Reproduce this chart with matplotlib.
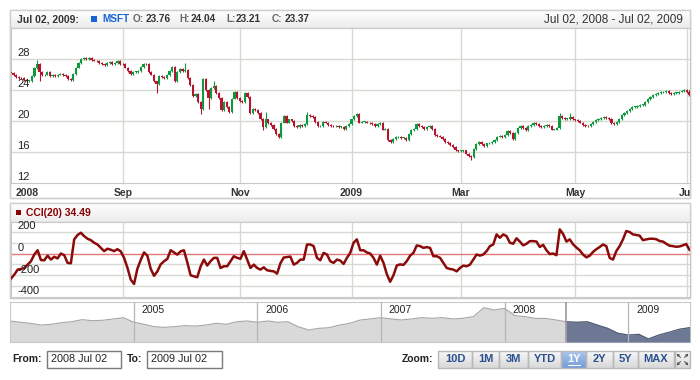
import numpy as np
import pandas as pd
import matplotlib
matplotlib.use("Agg")
import matplotlib.pyplot as plt
import matplotlib.dates as mdates
from matplotlib.patches import Rectangle
from matplotlib.transforms import Bbox, TransformedBbox

plt.rcParams['font.family'] = ['Liberation Sans', 'DejaVu Sans']

# ---------------- data ----------------
# daily closes, Jul 02 2008 .. Jul 02 2009
closes = [
    26.2, 25.9, 25.7, 25.6, 25.5, 25.3, 25.2, 25.2, 25.8, 26.8,
    27.4, 26.3, 25.9, 26.0, 26.3, 25.8, 25.9, 25.8, 26.0, 26.1,
    25.9, 25.8, 25.4, 25.3, 26.1, 26.9, 27.5, 28.0, 28.1, 28.0,
    28.1, 27.9, 27.8, 27.7, 27.5, 27.3, 27.2, 27.5, 27.6, 27.4,
    27.5, 27.7, 27.4, 27.3, 26.9, 26.5, 26.1, 26.3, 26.3, 26.5,
    27.0, 27.4, 27.3, 26.3, 26.0, 25.1, 24.8, 25.8, 25.7, 25.6,
    25.9, 26.4, 27.0, 25.2, 26.3, 26.7, 26.5, 26.6, 25.5, 24.6,
    23.2, 23.5, 22.5, 21.6, 25.4, 24.0, 23.0, 24.3, 24.5, 23.6,
    23.0, 21.4, 22.4, 21.8, 21.2, 22.9, 23.7, 23.0, 22.6, 22.4,
    23.6, 23.1, 21.0, 21.5, 21.4, 21.0, 20.3, 19.2, 20.2, 19.7,
    19.5, 19.0, 18.3, 17.9, 19.8, 20.6, 19.8, 20.2, 20.0, 19.3,
    19.2, 19.5, 19.4, 19.6, 20.8, 20.6, 20.5, 19.9, 19.3, 19.4,
    19.9, 19.8, 19.5, 19.4, 19.3, 19.3, 19.2, 19.2, 19.0, 19.3,
    19.6, 20.2, 20.7, 20.9, 19.8, 19.9, 19.9, 19.8, 19.7, 19.6,
    19.3, 19.6, 19.7, 18.9, 19.0, 17.6, 17.3, 17.7, 17.9, 18.0,
    17.8, 17.8, 17.5, 18.3, 18.8, 19.0, 19.6, 19.4, 19.2, 19.0,
    19.2, 19.3, 19.0, 18.2, 18.1, 18.0, 17.7, 17.3, 17.2, 16.9,
    16.7, 16.2, 16.1, 16.1, 16.2, 15.8, 15.5, 15.3, 16.4, 17.0,
    17.3, 17.0, 16.8, 17.1, 17.2, 17.3, 17.5, 18.0, 18.1, 17.9,
    18.2, 18.7, 18.4, 17.7, 18.4, 19.1, 19.3, 19.1, 18.8, 19.3,
    19.5, 19.7, 19.6, 19.4, 19.2, 19.4, 19.5, 19.3, 18.9, 18.9,
    19.1, 20.6, 20.4, 20.3, 20.3, 20.5, 20.2, 20.1, 20.0, 19.8,
    19.5, 19.4, 19.3, 19.6, 19.9, 20.1, 20.3, 20.4, 20.5, 20.4,
    20.3, 19.7, 19.6, 19.9, 20.3, 20.8, 21.0, 21.3, 21.6, 21.8,
    21.8, 21.9, 22.1, 22.1, 22.5, 22.8, 23.1, 23.3, 23.5, 23.6,
    23.7, 23.7, 23.9, 23.6, 23.5, 23.6, 23.6, 23.8, 23.9, 24.0,
    23.7, 23.37,
]
# visible long shadows: day number -> price
wick_high = {10: 27.9, 67: 27.5, 78: 25.1, 98: 21.2, 114: 21.2, 211: 21.0, 215: 21.0}
wick_low = {11: 25.1, 56: 23.6, 73: 20.9, 76: 21.5, 97: 18.9, 177: 15.0}
last_ohlc = (23.76, 24.04, 23.21, 23.37)

cci = [
    -230, -194, -148, -142, -133, -102, -71, -9, 30, -60,
    -62, -20, -56, -30, -45, 0, -15, -86, -90, 130,
    170, 191, 160, 136, 123, 99, 83, 52, 22, 44,
    35, 22, 40, 20, -40, -130, -240, -280, -140, -60,
    10, -20, -140, -205, -165, -100, -71, -50, 30, 10,
    -10, 20, 30, -80, -200, -210, -218, -120, -56, -111,
    -71, -40, -40, -133, -117, -117, -71, -25, -40, -49,
    22, -56, -133, -102, -133, -148, -127, -154, -160, -164,
    -185, -90, -37, -32, -28, -102, -86, -56, -56, 83,
    83, 68, -40, -62, 6, -9, -71, -86, -56, -65,
    -96, -40, 6,
    99, 130, 30, 30, 10, 0, -40, -102, -20, -86,
    -190, -260, -200, -110, -100, -105, -70, -20, 6, 74,
    68, 52, 59, 52, -25, -25, -40, -86, -133, -142,
    -148, -164, -133, -111, -117, -102, -56, -9, -19, -9,
    22, 68, 83, 176, 145, 176, 160, 99, 90, 140,
    110, 75, 90, 114, 114, 110, 60, 80, 30, -5,
    0, -15, 222, 180, 110, 130, 85, 55, 30, -10,
    -35, -20, 15, 40, 60, 83, 68, -40, -56, 22,
    68, 130, 207, 198, 176, 170, 165, 123, 130, 136,
    136, 132, 115, 110, 90, 72, 68, 62, 65, 75,
    88, 34.49,
]
cci_last = 34.49

month_labels = ['2008', 'Sep', 'Nov', '2009', 'Mar', 'May', 'Jul']
month_starts = ['2008-07-02', '2008-09-01', '2008-11-01', '2009-01-01',
                '2009-03-01', '2009-05-01', '2009-07-01']
price_ticks = [12, 16, 20, 24, 28]
cci_ticks = [-400, -200, 0, 200]

# monthly closes for the scroller, Jan 2004 .. Jul 2009
overview = [
    26.7, 25.8, 25.1, 23.9, 24.4, 25.5, 26.2, 27.6, 26.9, 27.2,
    28.1, 29.0, 25.8, 24.4, 22.8, 22.3, 22.8, 23.5, 23.2, 23.9,
    25.1, 24.4, 26.2, 26.7, 25.8, 26.7, 25.8, 26.2, 22.8, 20.5,
    21.6, 22.1, 23.9, 25.1, 27.4, 28.1, 29.0, 28.1, 27.4, 28.1,
    29.0, 28.6, 29.0, 28.1, 28.6, 29.7, 35.9, 34.3, 35.4, 30.4,
    29.7, 28.5, 28.5, 27.4, 26.2, 25.8, 26.2, 23.9, 21.6, 18.2,
    17.0, 17.5, 14.3, 17.0, 18.9, 21.0, 22.1,
]
overview_years = ['2005', '2006', '2007', '2008', '2009']
zoom_buttons = ['10D', '1M', '3M', 'YTD', '1Y', '2Y', '5Y', 'MAX']
selected_button = '1Y'

GREEN = '#0e9a3c'
RED = '#b5142f'
GRID = '#d6dbd2'
TXT = '#222222'

W, H = 700, 380
fig = plt.figure(figsize=(7, 3.8), dpi=100)


def box(x0, y0, x1, y1):
    return [x0 / W, 1 - y1 / H, (x1 - x0) / W, (y1 - y0) / H]


bg = fig.add_axes([0, 0, 1, 1])
bg.set_axis_off()


def grad(x0, y0, x1, y1, top, bottom, z=1):
    t = np.linspace(0, 1, 32)[:, None, None]
    arr = np.array(top)[None, None, :] * (1 - t) + np.array(bottom)[None, None, :] * t
    bg.imshow(arr, extent=[x0, x1, y1, y0], aspect='auto', origin='upper',
              interpolation='bilinear', zorder=z)


def frame(x0, y0, x1, y1, ec='#cfcfcf', fc='none', lw=1, z=2):
    bg.add_patch(Rectangle((x0, y0), x1 - x0, y1 - y0, fc=fc, ec=ec, lw=lw, zorder=z))


# panel backgrounds / headers
frame(10, 10, 690, 198, fc='white', z=0.5)
grad(10, 10, 690, 28, (1, 1, 1), (0.925, 0.925, 0.925))
frame(10, 10, 690, 198)
bg.plot([10, 690], [28, 28], color='#d4d4d4', lw=1, zorder=3)

frame(10, 203, 690, 298, fc='white', z=0.5)
grad(10, 203, 690, 222, (1, 1, 1), (0.925, 0.925, 0.925))
frame(10, 203, 690, 298)
bg.plot([10, 690], [222, 222], color='#d4d4d4', lw=1, zorder=3)

# header texts
hy = 19.5
hfs = 7.2
bg.text(17, hy, 'Jul 02, 2009:', fontsize=7.5, fontweight='bold', color='#333', va='center', zorder=4)
bg.add_patch(Rectangle((91, 16), 6, 6, fc='#1565d8', ec='none', zorder=4))
bg.text(102, hy, 'MSFT', fontsize=hfs, fontweight='bold', color='#1565d8', va='center', zorder=4)
hx = [(133, 'O:', '#666'), (146, '%.2f' % last_ohlc[0], '#333'),
      (179, 'H:', '#666'), (191, '%.2f' % last_ohlc[1], '#333'),
      (226, 'L:', '#666'), (236, '%.2f' % last_ohlc[2], '#333'),
      (272, 'C:', '#666'), (285, '%.2f' % last_ohlc[3], '#333')]
for x, s, col in hx:
    bg.text(x, hy, s, fontsize=hfs, fontweight='bold', color=col, va='center', zorder=4)
bg.text(683, hy, 'Jul 02, 2008 - Jul 02, 2009', fontsize=8.5, color='#333',
        ha='right', va='center', zorder=4)

bg.add_patch(Rectangle((16, 210), 5, 5, fc='#8b0000', ec='none', zorder=4))
bg.text(26, 212.5, 'CCI(20) %.2f' % cci_last, fontsize=7.5, fontweight='bold',
        color='#8b0000', va='center', zorder=4)

# ---------------- price panel ----------------
n = len(closes)
days = pd.bdate_range(end='2009-07-02', periods=n)
idx = np.arange(n)
c = np.array(closes)
o = np.r_[c[0] + 0.1, c[:-1]]
o[-1] = last_ohlc[0]
hi = np.maximum(o, c) + 0.12
lo = np.minimum(o, c) - 0.12
for k, v in wick_high.items():
    hi[k] = v
for k, v in wick_low.items():
    lo[k] = v
hi[-1], lo[-1] = last_ohlc[1], last_ohlc[2]
cols = np.where(c >= o, GREEN, RED)

tick_idx = days.searchsorted(pd.to_datetime(month_starts))

ax = fig.add_axes(box(11, 28, 690, 183))
ax.set_xlim(0, n - 0.8)
ax.set_ylim(12, 32)
for t in price_ticks[1:]:
    ax.axhline(t, color=GRID, lw=1, zorder=0)
for t in tick_idx[1:]:
    ax.axvline(t, color=GRID, lw=1, zorder=0)
ax.vlines(idx, lo, hi, colors=cols, lw=0.8, zorder=2)
ax.bar(idx, np.maximum(np.abs(c - o), 0.1), bottom=np.minimum(o, c), width=0.85,
       color=cols, linewidth=0, zorder=3)
ax.set_xticks([])
ax.set_yticks([])
for s in ax.spines.values():
    s.set_color('#c8c8c8')
for t in price_ticks:
    ax.annotate(str(t), xy=(0, t), xycoords=('axes fraction', 'data'), xytext=(4.5, 1),
                textcoords='offset points', fontsize=8, color=TXT, va='bottom', zorder=5)

clip = TransformedBbox(Bbox([[10, 183], [690, 198]]), bg.transData)
for t, lab in zip(tick_idx, month_labels):
    if t == 0:
        a = ax.annotate(lab, xy=(t, 0), xycoords=('data', 'axes fraction'), xytext=(3, -7),
                        textcoords='offset points', fontsize=7.5, fontweight='bold',
                        color='#333', ha='left', va='center')
    else:
        a = ax.annotate(lab, xy=(t, 0), xycoords=('data', 'axes fraction'), xytext=(0, -7),
                        textcoords='offset points', fontsize=7.5, fontweight='bold',
                        color='#333', ha='center', va='center')
    a.set_clip_box(clip)
    a.set_clip_on(True)

# ---------------- CCI panel ----------------
ax2 = fig.add_axes(box(11, 222, 690, 297))
ax2.set_xlim(0, n - 0.8)
ax2.set_ylim(-400, 290)
for t in [-300, -200, -100, 100, 200]:
    ax2.axhline(t, color=GRID, lw=1, zorder=0)
for t in tick_idx[1:]:
    ax2.axvline(t, color=GRID, lw=1, zorder=0)
ax2.axhline(0, color='#e07a7a', lw=1, zorder=1)
ax2.plot(np.linspace(0, n - 1, len(cci)), cci, color='#8b0a0a', lw=1.8, zorder=3,
         solid_joinstyle='round')
ax2.set_xticks([])
ax2.set_yticks([])
for s in ax2.spines.values():
    s.set_color('#c8c8c8')
for t in cci_ticks:
    ax2.annotate(str(t), xy=(0, t), xycoords=('axes fraction', 'data'), xytext=(4.5, 0.5),
                 textcoords='offset points', fontsize=8, color=TXT, va='bottom', zorder=5)

# ---------------- scroller ----------------
ov_dates = pd.date_range('2004-01-01', periods=len(overview), freq='MS')
ov = np.array(overview)
sel_start = pd.Timestamp('2008-07-01')
ax3 = fig.add_axes(box(10, 302, 690, 342))
ax3.set_xlim(mdates.date2num(pd.Timestamp('2004-01-01')), mdates.date2num(pd.Timestamp('2009-07-02')))
ax3.set_ylim(12.2, 39.8)
ax3.fill_between(ov_dates, ov, 12.2, color='#d9d9d9', lw=0, zorder=1)
ax3.plot(ov_dates, ov, color='#a6a6a6', lw=0.8, zorder=2)
m = ov_dates >= sel_start
ax3.fill_between(ov_dates[m], ov[m], 12.2, color='#6d7894', lw=0, zorder=3)
ax3.plot(ov_dates[m], ov[m], color='#4d5a78', lw=0.8, zorder=4)
for y in overview_years:
    d = pd.Timestamp(y + '-01-01')
    ax3.axvline(d, color='#b5b5b5', lw=0.9, zorder=5)
    ax3.annotate(y, xy=(mdates.date2num(d), 1), xycoords=('data', 'axes fraction'),
                 xytext=(5.5, -5.5), textcoords='offset points', fontsize=7.5,
                 color=TXT, va='center', zorder=6)
ax3.axvline(sel_start, color='#9a9a9a', lw=1.2, zorder=6)
ax3.set_xticks([])
ax3.set_yticks([])
for s in ax3.spines.values():
    s.set_color('#c8c8c8')

# ---------------- range / zoom controls ----------------
ry = 359.5
bg.text(12, ry, 'From:', fontsize=7.5, fontweight='bold', color=TXT, va='center')
frame(47, 351, 121, 368, ec='#7a7a7a', fc='white')
bg.text(51, ry, '2008 Jul 02', fontsize=7.8, color=TXT, va='center', zorder=4)
bg.text(127, ry, 'To:', fontsize=7.5, fontweight='bold', color=TXT, va='center')
frame(147, 351, 222, 368, ec='#7a7a7a', fc='white')
bg.text(151, ry, '2009 Jul 02', fontsize=7.8, color=TXT, va='center', zorder=4)

bg.text(433, ry, 'Zoom:', fontsize=7.5, fontweight='bold', color=TXT, ha='right', va='center')
edges = [438, 472, 499, 528, 561, 586, 613, 638, 674]
for i, lab in enumerate(zoom_buttons):
    x0, x1 = edges[i], edges[i + 1]
    if lab == selected_button:
        grad(x0, 351, x1, 368, (0.68, 0.78, 0.93), (0.45, 0.61, 0.85), z=2)
        tc = 'white'
    else:
        grad(x0, 351, x1, 368, (0.97, 0.97, 0.97), (0.85, 0.85, 0.85), z=2)
        tc = '#2b4f8f'
    frame(x0, 351, x1, 368, ec='#b8b8b8', z=3)
    bg.text((x0 + x1) / 2, ry, lab, fontsize=8, fontweight='bold', color=tc,
            ha='center', va='center', zorder=4)
    if lab == selected_button:
        bg.plot([(x0 + x1) / 2 - 6, (x0 + x1) / 2 + 6], [364.5, 364.5], color='white', lw=0.8, zorder=4)

# full screen icon
grad(675, 351, 690, 368, (0.97, 0.97, 0.97), (0.85, 0.85, 0.85), z=2)
frame(675, 351, 690, 368, ec='#b8b8b8', z=3)
cx, cy = 682.5, 359.5
for dx, dy in [(-1, -1), (1, -1), (-1, 1), (1, 1)]:
    bg.annotate('', xy=(cx + dx * 6, cy + dy * 6), xytext=(cx + dx * 2, cy + dy * 2),
                arrowprops=dict(arrowstyle='-|>', color='#555', lw=0.7, mutation_scale=3.5,
                                shrinkA=0, shrinkB=0),
                zorder=5)

bg.set_xlim(0, W)
bg.set_ylim(H, 0)

fig.savefig('out.png', dpi=100)
